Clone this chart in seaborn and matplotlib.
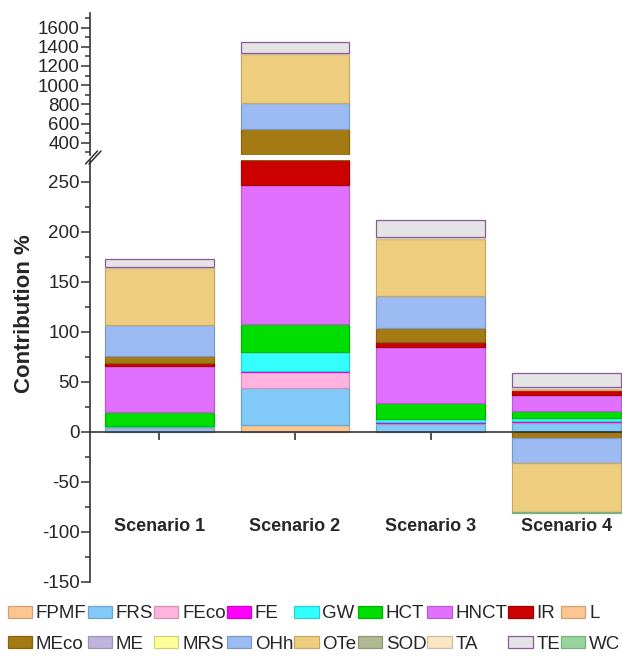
import numpy as np
import pandas as pd
import matplotlib
matplotlib.use("Agg")
import matplotlib.pyplot as plt
from matplotlib.patches import Patch
from matplotlib.lines import Line2D
from matplotlib.ticker import MultipleLocator
import seaborn as sns

scenarios = ["Scenario 1", "Scenario 2", "Scenario 3", "Scenario 4"]
categories = ["FPMF", "FRS", "FEco", "FE", "GW", "HCT", "HNCT", "IR", "L",
              "MEco", "ME", "MRS", "OHh", "OTe", "SOD", "TA", "TE", "WC"]

# contribution (%) of each category, one value per scenario
FPMF = [0, 7, 0, 0]
FRS = [4, 37.5, 8, 9.4]
FEco = [1, 16, 1.5, 0.8]
FE = [0, 1, 0.5, 0.5]
GW = [1, 18.5, 3, 3.7]
HCT = [14, 28.5, 16, 6.3]
HNCT = [46, 139, 56, 16]
IR = [3, 25, 5, 5]
L = [0, 0, 0, 1.5]
MEco = [7, 273, 14, -6.3]
ME = [0, 0, 0, 0]
MRS = [0, 0, 0, 0]
OHh = [31, 265, 32, -25]
OTe = [57, 512, 57, -48.5]
SOD = [0, 0, 0, 0]
TA = [1, 10, 2, 1.5]
TE = [8, 120, 17, 14.5]
WC = [0, 0, 0, -1]

colors = {
    "FPMF": "#fdc592", "FRS": "#82cafa", "FEco": "#ffb3de", "FE": "#ff00ff",
    "GW": "#33ffff", "HCT": "#00dd00", "HNCT": "#e270ff", "IR": "#cc0000",
    "L": "#fdc592", "MEco": "#a47a12", "ME": "#c0b4dc", "MRS": "#ffff99",
    "OHh": "#9bbbf2", "OTe": "#efcd7e", "SOD": "#b0b894", "TA": "#f8e6c4",
    "TE": "#e4e4e4", "WC": "#98d49c",
}

values = [FPMF, FRS, FEco, FE, GW, HCT, HNCT, IR, L,
          MEco, ME, MRS, OHh, OTe, SOD, TA, TE, WC]
table = pd.DataFrame(dict(zip(categories, values)), index=scenarios)
pos = table.clip(lower=0)
neg = table.clip(upper=0)
pos_base = pos.cumsum(axis=1) - pos
neg_base = neg.cumsum(axis=1) - neg


def edge_of(cat):
    if cat == "TE":
        return "#8b5a9b"
    r, g, b = matplotlib.colors.to_rgb(colors[cat])
    return (r * 0.82, g * 0.82, b * 0.82)


sns.set_style("ticks")
plt.rcParams["font.family"] = ["Liberation Sans", "DejaVu Sans"]
plt.rcParams["axes.unicode_minus"] = False

W, H = 622, 658
fig = plt.figure(figsize=(W / 100, H / 100), dpi=100)


def box(l, t, r, b):
    return [l / W, 1 - b / H, (r - l) / W, (b - t) / H]


ax_top = fig.add_axes(box(90, 12.7, 622, 155))
ax_bot = fig.add_axes(box(90, 160, 622, 582))

for ax in (ax_top, ax_bot):
    for cat in categories:
        for part, base in ((pos, pos_base), (neg, neg_base)):
            if not part[cat].any():
                continue
            sns.barplot(x=scenarios, y=part[cat].values, bottom=base[cat].values,
                        color=colors[cat], saturation=1, edgecolor=edge_of(cat),
                        linewidth=0.9, width=0.8, errorbar=None, ax=ax)
    # hide empty segments
    for p in ax.patches:
        if p.get_height() == 0:
            p.set_visible(False)
    ax.set_xlim(-0.51, 3.41)
    ax.spines["top"].set_visible(False)
    ax.spines["right"].set_visible(False)
    ax.spines["left"].set_linewidth(1.2)
    ax.spines["left"].set_color("#333333")
    ax.tick_params(axis="y", which="major", length=6.5, width=1.1,
                   color="#333333", labelsize=13.5, pad=1)
    ax.tick_params(axis="y", which="minor", length=3.5, width=1.1, color="#333333")
    ax.set_xlabel("")
    ax.set_ylabel("")

# upper part of the broken axis
ax_top.set_ylim(272, 1755)
ax_top.set_yticks(range(400, 1601, 200))
ax_top.yaxis.set_minor_locator(MultipleLocator(100))
ax_top.spines["bottom"].set_visible(False)
ax_top.tick_params(axis="x", bottom=False, labelbottom=False)

# lower part
ax_bot.set_ylim(-150, 272)
ax_bot.set_yticks(range(-150, 251, 50))
ax_bot.yaxis.set_minor_locator(MultipleLocator(25))
ax_bot.spines["bottom"].set_position(("data", 0))
ax_bot.spines["bottom"].set_linewidth(1.2)
ax_bot.spines["bottom"].set_color("#333333")
ax_bot.set_xticks(range(len(scenarios)))
ax_bot.set_xticklabels(scenarios, fontweight="bold", fontsize=13)
ax_bot.tick_params(axis="x", length=6, width=1.2, color="#333333", pad=56)

# break marks
for dx in (0, 3.5):
    fig.add_artist(Line2D([(85.5 + dx) / W, (97.5 + dx) / W],
                          [1 - 164 / H, 1 - 151 / H],
                          color="#333333", lw=1.1, transform=fig.transFigure))

fig.text(25 / W, 1 - 314 / H, "Contribution %", rotation=90, fontsize=16,
         fontweight="bold", ha="center", va="center")

# legend, filled row by row
handles = [Patch(facecolor=colors[c], edgecolor=edge_of(c), linewidth=0.9, label=c)
           for c in categories]
order = [i + j * 9 for i in range(9) for j in range(2)]
fig.legend([handles[i] for i in order], [categories[i] for i in order],
           ncol=9, loc="center", bbox_to_anchor=(0.505, 1 - 629 / H),
           frameon=False, fontsize=13.5, handlelength=1.3, handleheight=0.64,
           handletextpad=0.2, columnspacing=0.05, labelspacing=0.7,
           borderpad=0.1)

fig.savefig("out.png", dpi=100)
